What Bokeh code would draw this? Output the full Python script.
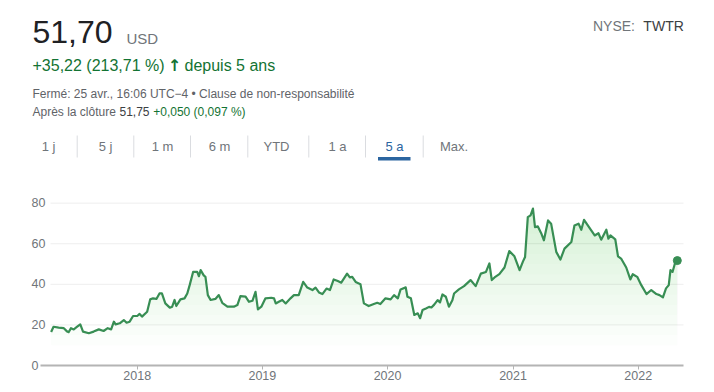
import numpy as np
import pandas as pd
from bokeh.plotting import figure
from bokeh.models import Range1d, FixedTicker, DatetimeTickFormatter, ColumnDataSource
from bokeh.core.properties import value
from bokeh.embed import file_html
from bokeh.resources import INLINE

# ---------------- data ----------------
dates = [
    "2017-04-25", "2017-05-02", "2017-05-17", "2017-06-01", "2017-06-11", "2017-06-15",
    "2017-06-22", "2017-06-30", "2017-07-10", "2017-07-19", "2017-07-27", "2017-08-13",
    "2017-08-27", "2017-09-11", "2017-09-25", "2017-10-07", "2017-10-17", "2017-10-25",
    "2017-10-30", "2017-11-11", "2017-11-23", "2017-12-01", "2017-12-10", "2017-12-20",
    "2018-01-01", "2018-01-08", "2018-01-15", "2018-01-30", "2018-02-08", "2018-02-16",
    "2018-02-26", "2018-03-07", "2018-03-14", "2018-03-24", "2018-04-06", "2018-04-13",
    "2018-04-20", "2018-04-25", "2018-05-07", "2018-05-19", "2018-05-27", "2018-06-03",
    "2018-06-13", "2018-06-25", "2018-06-30", "2018-07-05", "2018-07-14", "2018-07-19",
    "2018-07-26", "2018-08-03", "2018-08-17", "2018-08-27", "2018-09-06", "2018-09-21",
    "2018-10-10", "2018-10-20", "2018-10-29", "2018-11-13", "2018-11-23", "2018-12-03",
    "2018-12-12", "2018-12-19", "2018-12-29", "2019-01-10", "2019-01-27", "2019-02-04",
    "2019-02-09", "2019-02-18", "2019-02-28", "2019-03-10", "2019-03-24", "2019-04-03",
    "2019-04-17", "2019-04-30", "2019-05-12", "2019-05-27", "2019-06-05", "2019-06-15",
    "2019-06-25", "2019-07-07", "2019-07-17", "2019-07-28", "2019-08-09", "2019-08-19",
    "2019-09-05", "2019-09-13", "2019-09-20", "2019-09-30", "2019-10-14", "2019-10-24",
    "2019-11-07", "2019-11-22", "2019-12-02", "2019-12-11", "2019-12-26", "2020-01-10",
    "2020-01-20", "2020-01-31", "2020-02-08", "2020-02-23", "2020-02-28", "2020-03-09",
    "2020-03-19", "2020-03-29", "2020-04-05", "2020-04-12", "2020-04-22", "2020-05-01",
    "2020-05-08", "2020-05-16", "2020-05-26", "2020-06-02", "2020-06-09", "2020-06-19",
    "2020-06-28", "2020-07-08", "2020-07-13", "2020-07-27", "2020-08-11", "2020-08-30",
    "2020-09-14", "2020-09-29", "2020-10-14", "2020-10-24", "2020-10-31", "2020-11-08",
    "2020-11-22", "2020-12-07", "2020-12-21", "2021-01-05", "2021-01-20", "2021-01-30",
    "2021-02-05", "2021-02-13", "2021-02-21", "2021-02-28", "2021-03-06", "2021-03-14",
    "2021-03-24", "2021-04-01", "2021-04-13", "2021-04-22", "2021-05-07", "2021-05-19",
    "2021-05-31", "2021-06-20", "2021-06-29", "2021-07-11", "2021-07-19", "2021-07-27",
    "2021-08-17", "2021-08-27", "2021-09-07", "2021-09-15", "2021-09-30", "2021-10-06",
    "2021-10-12", "2021-10-26", "2021-11-03", "2021-11-12", "2021-11-27", "2021-12-09",
    "2021-12-16", "2021-12-29", "2022-01-10", "2022-01-25", "2022-02-08", "2022-02-23",
    "2022-03-04", "2022-03-14", "2022-03-23", "2022-03-31", "2022-04-05", "2022-04-11",
    "2022-04-18", "2022-04-25",
]
prices = [
    16.5, 19.1, 18.7, 18.4, 16.7, 16.4,
    18.4, 17.8, 19.1, 20.3, 16.7, 15.9,
    16.7, 17.8, 17.0, 18.4, 17.8, 21.6,
    20.3, 20.8, 22.4, 21.1, 21.6, 24.4,
    24.4, 25.4, 24.1, 26.5, 32.6, 33.1,
    32.8, 35.5, 35.5, 30.6, 28.5, 29.0,
    32.3, 29.3, 32.6, 33.1, 35.5, 39.6,
    46.1, 46.1, 44.0, 47.0, 44.4, 43.7,
    34.7, 32.3, 32.8, 34.7, 30.9, 29.0,
    29.0, 29.8, 34.2, 33.9, 31.4, 31.9,
    36.3, 27.7, 29.0, 33.1, 33.4, 33.1,
    30.6, 31.4, 32.3, 30.6, 33.1, 34.7,
    34.7, 41.2, 38.4, 37.2, 38.4, 36.0,
    35.2, 37.9, 37.2, 42.4, 41.6, 40.8,
    45.3, 43.4, 43.7, 41.2, 40.1, 30.6,
    29.3, 30.3, 30.9, 30.3, 33.1, 32.6,
    34.7, 33.1, 37.5, 38.5, 33.9, 33.1,
    24.9, 25.7, 23.3, 27.3, 28.1, 28.9,
    28.6, 30.0, 32.2, 31.1, 35.0, 33.9,
    29.0, 32.2, 35.5, 37.5, 39.1, 42.1,
    39.1, 45.3, 46.1, 50.3, 42.1, 43.4,
    45.0, 48.3, 56.4, 53.8, 47.0, 51.3,
    53.5, 73.1, 74.0, 77.3, 68.2, 68.6,
    65.2, 61.7, 71.5, 69.9, 56.0, 52.2,
    57.6, 60.9, 69.0, 69.9, 66.9, 71.8,
    66.6, 64.1, 65.2, 62.0, 66.9, 62.5,
    64.1, 62.2, 53.8, 52.7, 48.3, 42.4,
    45.0, 43.7, 39.6, 35.2, 37.2, 35.2,
    34.7, 33.6, 38.0, 39.6, 47.0, 46.1,
    50.3, 51.70,
]
y_ticks = [0, 20, 40, 60, 80]
tick_years = [2018, 2019, 2020, 2021, 2022]
tab_labels = ["1 j", "5 j", "1 m", "6 m", "YTD", "1 a", "5 a", "Max."]

# ---------------- styles / layout ----------------
FONT = value("Liberation Sans")
GREEN = "#137333"
LINE = "#388e54"
GRAY = "#70757a"
DARK = "#202124"
W, H = 712, 390
FL, FR, FB = 26, 700, 365           # frame edges (page px); frame top = 0
AX_L, AX_R = 40, 683                # where the x axis line runs (page px)
T_L = pd.Timestamp("2017-03-25").value / 1e6
T_R = pd.Timestamp("2022-05-13").value / 1e6
MS_PX = (T_R - T_L) / (AX_R - AX_L)
PX_UNIT = 181 / 89.2                # pixels per price unit


def X(px):
    return T_L + (px - AX_L) * MS_PX


def Y(py):
    return (FB - py) / PX_UNIT


dt = pd.to_datetime(dates)
vals = np.array(prices)
src = ColumnDataSource(dict(x=dt, y=vals))

p = figure(width=W, height=H, x_axis_type="datetime", output_backend="svg",
           toolbar_location=None, title=None,
           x_range=Range1d(X(FL), X(FR)), y_range=Range1d(0, Y(0)),
           min_border_left=FL, min_border_right=W - FR, min_border_top=0,
           min_border_bottom=H - FB)
p.outline_line_color = None
p.xgrid.visible = False
p.ygrid.visible = False

# light horizontal grid lines at the y ticks (from the chart's left inset to the axis end)
p.segment(x0=[X(50)] * 4, x1=[X(AX_R)] * 4, y0=y_ticks[1:], y1=y_ticks[1:],
          line_color="#eeeeee", line_width=1)

# soft vertical gradient under the line (stacked translucent bands)
for lvl in range(10, 85, 5):
    p.varea(x=dt, y1=np.full(len(vals), float(lvl)), y2=np.maximum(vals, lvl),
            fill_color="#34a853", fill_alpha=0.015)

p.line("x", "y", source=src, line_color=LINE, line_width=2.2, line_join="round")
p.scatter(x=[dt[-1]], y=[vals[-1]], size=8, fill_color=LINE, line_color=LINE)

xa = p.xaxis[0]
xa.bounds = (X(AX_L), X(AX_R))
xa.ticker = FixedTicker(ticks=[pd.Timestamp(f"{y}-01-01").value / 1e6 for y in tick_years])
xa.formatter = DatetimeTickFormatter(years="%Y", months="%Y", days="%Y", hours="%Y")
xa.axis_line_color = "#b4b4b4"
xa.axis_line_width = 2
xa.major_tick_line_color = "#b4b4b4"
xa.major_tick_in = 0
xa.major_tick_out = 4
xa.minor_tick_line_color = None
xa.major_label_standoff = 1
xa.major_label_text_color = GRAY
xa.major_label_text_font = "Liberation Sans"
xa.major_label_text_font_size = "12.5px"

ya = p.yaxis[0]
ya.ticker = FixedTicker(ticks=y_ticks)
ya.axis_line_color = None
ya.major_tick_line_color = None
ya.minor_tick_line_color = None
ya.major_tick_out = 0
ya.major_tick_in = 0
ya.major_label_standoff = FL - 45
ya.major_label_overrides = {0: "0\u2007"}
ya.major_label_text_color = GRAY
ya.major_label_text_font = "Liberation Sans"
ya.major_label_text_font_size = "12.5px"


# ---------------- header (page pixel positions converted through the scales) ----------------
def txt(px, py, t, size, color, align="left", style="normal", font=FONT):
    # py is the vertical middle of the text
    p.text(x=[X(px)], y=[Y(py)], text=[t], text_font=font, text_font_size=value(size),
           text_color=color, text_align=align, text_baseline="middle",
           text_font_style=style)


txt(32, 31.6, "51,70", "32px", DARK)
txt(126, 38.2, "USD", "15px", GRAY)
txt(634.5, 25.2, "NYSE:", "14px", GRAY, align="right")
txt(683.3, 25.2, "TWTR", "14px", "#3c4043", align="right")
txt(32, 65.4, "+35,22 (213,71 %)", "16px", GREEN)
txt(174, 65.4, "\u2191", "16px", GREEN, align="center", style="bold", font=value("DejaVu Sans"))
txt(184, 65.4, "depuis 5 ans", "16px", GREEN)
txt(32, 93, "Fermé: 25 avr., 16:06 UTC\u22124 \u2022 Clause de non-responsabilité", "12px", "#5f6368")
txt(32, 111, "Après la clôture", "12px", "#5f6368")
txt(119, 111, "51,75", "12px", "#3c4043")
txt(152.7, 111, "+0,050 (0,097 %)", "12px", GREEN)

tab_x = [48, 105, 162, 219, 276, 337, 394, 453.5]
for lab, tx in zip(tab_labels, tab_x):
    txt(tx, 146.2, lab, "13px", "#2b65a0" if lab == "5 a" else GRAY, align="center")
sep_x = [76.7, 133.3, 190, 247.3, 308.3, 365, 422.7]
p.segment(x0=[X(s) for s in sep_x], x1=[X(s) for s in sep_x],
          y0=[Y(135)] * len(sep_x), y1=[Y(157)] * len(sep_x),
          line_color="#dadce0", line_width=1)
p.quad(left=[X(377.5)], right=[X(410)], top=[Y(156.5)], bottom=[Y(160)],
       fill_color="#2b65a0", line_color=None)

open("out.html", "w").write(file_html(p, INLINE))
